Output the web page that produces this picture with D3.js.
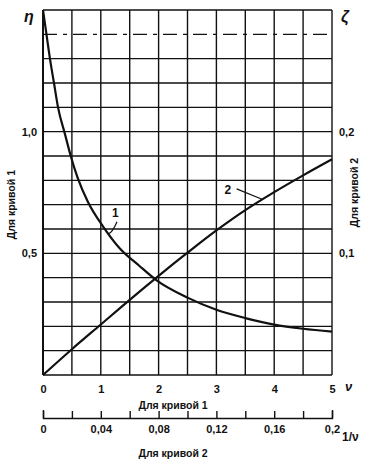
<!DOCTYPE html>
<html>
<head>
<meta charset="utf-8">
<script src="https://cdn.jsdelivr.net/npm/d3@7"></script>
<style>
  body { margin: 0; background: #fff; }
  text { font-family: "Liberation Sans", Arial, sans-serif; font-weight: bold; fill: #111; }
</style>
</head>
<body>
<script>
// curve 1: eta vs nu
var nu1 = [0, 0.06, 0.12, 0.19, 0.26, 0.38, 0.48, 0.6, 0.78, 1.04, 1.33, 1.66, 1.96, 2.5, 3.0, 3.5, 4.0, 4.5, 5.0];
var eta1 = [1.5, 1.4, 1.3, 1.2, 1.1, 0.99, 0.9, 0.81, 0.71, 0.61, 0.52, 0.45, 0.39, 0.318, 0.268, 0.234, 0.207, 0.19, 0.178];

// curve 2: zeta vs 1/nu
var inv2 = [0, 0.02, 0.04, 0.06, 0.08, 0.10, 0.12, 0.14, 0.16, 0.18, 0.20];
var zeta2 = [0, 0.0212, 0.0415, 0.0618, 0.0815, 0.1005, 0.1188, 0.1355, 0.1503, 0.1641, 0.1773];

var nuTicks = [0, 1, 2, 3, 4, 5];
var etaTicks = [0.5, 1.0];
var zetaTicks = [0.1, 0.2];
var invTicks = [0, 0.02, 0.04, 0.06, 0.08, 0.10, 0.12, 0.14, 0.16, 0.18, 0.20];
var invLabels = [0, 0.04, 0.08, 0.12, 0.16, 0.2];
var gridX = [0, 0.5, 1, 1.5, 2, 2.5, 3, 3.5, 4, 4.5, 5];
var gridY = [0, 0.1, 0.2, 0.3, 0.4, 0.5, 0.6, 0.7, 0.8, 0.9, 1.0, 1.1, 1.2, 1.3, 1.4, 1.5];

var svgWidth = 370, svgHeight = 465;
var margin = { top: 10, right: 38, bottom: 90, left: 43 };

var svg = d3.select("body")
            .append("svg")
            .attr("width", svgWidth)
            .attr("height", svgHeight);

var x = d3.scaleLinear().domain([0, 5]).range([margin.left, svgWidth - margin.right - 0]);
var y = d3.scaleLinear().domain([0, 1.5]).range([svgHeight - margin.bottom, margin.top]);
var x2 = d3.scaleLinear().domain([0, 0.2]).range(x.range());
var y2 = d3.scaleLinear().domain([0, 0.3]).range(y.range());

var fmt = function(d) { return String(d).replace(".", ","); };

// grid
var grid = svg.append("g").attr("stroke", "#111").attr("fill", "none");
grid.selectAll("line.v")
    .data(gridX)
    .enter()
    .append("line")
    .attr("x1", d => x(d)).attr("x2", d => x(d))
    .attr("y1", y(0)).attr("y2", y(1.5))
    .attr("stroke-width", d => d === 0 ? 2 : 1.4);

grid.selectAll("line.h")
    .data(gridY)
    .enter()
    .append("line")
    .attr("x1", x(0)).attr("x2", x(5))
    .attr("y1", d => y(d)).attr("y2", d => y(d))
    .attr("stroke-width", 1.4)
    .attr("stroke-dasharray", d => Math.abs(d - 1.4) < 1e-9 ? "14,6,4,6" : null);

// curves
var line1 = d3.line()
              .x((d, i) => x(nu1[i]))
              .y(d => y(d))
              .curve(d3.curveMonotoneX);
svg.append("path")
   .attr("d", line1(eta1))
   .attr("fill", "none").attr("stroke", "#111").attr("stroke-width", 2.2);

var line2 = d3.line()
              .x((d, i) => x2(inv2[i]))
              .y(d => y2(d))
              .curve(d3.curveMonotoneX);
svg.append("path")
   .attr("d", line2(zeta2))
   .attr("fill", "none").attr("stroke", "#111").attr("stroke-width", 2.2);

// curve labels with leaders
svg.append("path")
   .attr("d", `M${x(1.28)},${y(0.63)} Q${x(1.2)},${y(0.585)} ${x(1.13)},${y(0.58)}`)
   .attr("fill", "none").attr("stroke", "#111").attr("stroke-width", 1.2);
svg.append("text").attr("x", x(1.25)).attr("y", y(0.65)).attr("font-size", 12).attr("text-anchor", "middle").text("1");

svg.append("path")
   .attr("d", `M${x2(0.134)},${y2(0.153)} L${x2(0.1516)},${y2(0.1445)}`)
   .attr("fill", "none").attr("stroke", "#111").attr("stroke-width", 1.2);
svg.append("text").attr("x", x2(0.128)).attr("y", y2(0.153) + 5).attr("font-size", 12).attr("text-anchor", "middle").text("2");

// bottom axis (curve 1)
var bottomAxis = d3.axisBottom(x).tickValues(nuTicks).tickSize(0).tickPadding(10).tickFormat(fmt);
var gb = svg.append("g")
    .attr("transform", `translate(0, ${y(0)})`)
    .call(bottomAxis);
gb.select(".domain").remove();
gb.selectAll("text").attr("font-size", 11).attr("font-family", null);

svg.append("text").attr("x", x(5) + 13).attr("y", y(0) + 16).attr("font-size", 13).attr("font-weight", "normal").attr("font-style", "italic").text("ν");
svg.append("text").attr("x", x(2.25)).attr("y", y(0) + 34).attr("font-size", 10.5).attr("text-anchor", "middle").text("Для кривой 1");

// left axis
var leftAxis = d3.axisLeft(y).tickValues(etaTicks).tickSize(0).tickPadding(6).tickFormat(d => d3.format(".1f")(d).replace(".", ","));
var gl = svg.append("g").attr("transform", `translate(${x(0)}, 0)`).call(leftAxis);
gl.select(".domain").remove();
gl.selectAll("text").attr("font-size", 11).attr("font-family", null);

// right axis
var rightAxis = d3.axisRight(y2).tickValues(zetaTicks).tickSize(0).tickPadding(7).tickFormat(fmt);
var gr = svg.append("g").attr("transform", `translate(${x(5)}, 0)`).call(rightAxis);
gr.select(".domain").remove();
gr.selectAll("text").attr("font-size", 11).attr("font-family", null);

svg.append("text").attr("x", 24).attr("y", 22).attr("font-size", 16).attr("font-weight", "normal").attr("font-style", "italic").text("η");
svg.append("text").attr("x", 341).attr("y", 22).attr("font-size", 16).attr("font-weight", "normal").attr("font-style", "italic").text("ζ");

svg.append("text")
   .attr("transform", `translate(15, ${y(0.7)}) rotate(-90)`)
   .attr("font-size", 10.5).attr("text-anchor", "middle").text("Для кривой 1");
svg.append("text")
   .attr("transform", `translate(358, ${y(0.75)}) rotate(-90)`)
   .attr("font-size", 10.5).attr("text-anchor", "middle").text("Для кривой 2");

// second bottom axis (curve 2)
var axis2 = d3.axisBottom(x2).tickValues(invTicks).tickSize(-7).tickSizeOuter(-8)
              .tickFormat(d => invLabels.some(v => Math.abs(v - d) < 1e-9) ? fmt(+d.toFixed(2)) : "");
var ga = svg.append("g")
    .attr("transform", `translate(0, 418)`)
    .call(axis2);
ga.selectAll("path, line").attr("stroke", "#111").attr("stroke-width", 1.4);
ga.selectAll("text").attr("font-size", 11).attr("font-family", null).attr("dy", "1.1em");

svg.append("text").attr("x", x(5) + 10).attr("y", 441).attr("font-size", 12).attr("font-weight", "normal").text("1/ν");
svg.append("text").attr("x", x(2.25)).attr("y", 457).attr("font-size", 10.5).attr("text-anchor", "middle").text("Для кривой 2");
</script>
</body>
</html>
